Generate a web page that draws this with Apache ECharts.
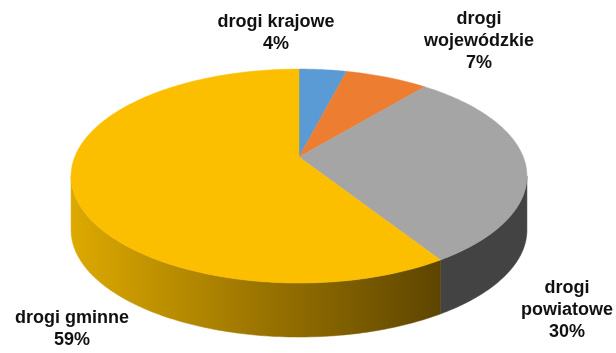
<!DOCTYPE html>
<html>
<head>
<meta charset="utf-8">
<script src="https://cdn.jsdelivr.net/npm/echarts@6/dist/echarts.min.js"></script>
<style>
  html, body { margin: 0; padding: 0; background: #fff; }
  #chart { width: 616px; height: 353px; }
</style>
</head>
<body>
<div id="chart"></div>
<script>
// Road network by category (share of total length, %)
const categories = ['drogi krajowe', 'drogi\nwojewódzkie', 'drogi\npowiatowe', 'drogi gminne'];
const shares = [4, 7, 30, 59];

// Slice colours: top face and side wall
const topColors = ['#5B9BD5', '#ED7D31', '#A5A5A5', '#FBBF00'];
const sideColors = ['#3F6F9A', '#A95820', '#434343', null];

// Pie geometry (perspective-projected disc)
const geo = { cx: 299, cy: 157, A: 224.3, B: 103.6, k: 0.178, depth: 54 };
// Label anchors (centre of each text block)
const labelPos = [[276, 33], [479, 41], [567, 310], [72, 329]];

const total = shares.reduce((a, b) => a + b, 0);

function project(theta, dy) {
  const u = Math.sin(theta), v = Math.cos(theta);
  const d = 1 + geo.k * v;
  return [geo.cx + geo.A * u / d, geo.cy - geo.B * v / d + (dy || 0)];
}

function sliceAngles(idx, value) {
  let before = 0;
  for (let i = 0; i < idx; i++) before += shares[i];
  const a0 = before / total * Math.PI * 2;
  const a1 = (before + value) / total * Math.PI * 2;
  return [a0, a1];
}

function arc(a0, a1, dy) {
  const pts = [];
  const n = Math.max(2, Math.ceil((a1 - a0) / (Math.PI / 180)));
  for (let i = 0; i <= n; i++) pts.push(project(a0 + (a1 - a0) * i / n, dy));
  return pts;
}

const sideGradient = {
  type: 'linear', x: 71, y: 0, x2: 438, y2: 0, global: true,
  colorStops: [
    { offset: 0, color: '#DDA900' },
    { offset: 0.5, color: '#9D7600' },
    { offset: 1, color: '#5E4600' }
  ]
};

const visFrom = Math.acos(-geo.k);
const visTo = Math.PI * 2 - visFrom;

const chart = echarts.init(document.getElementById('chart'), null, { renderer: 'canvas' });

chart.setOption({
  animation: false,
  series: [
    {
      // side walls of the disc
      type: 'custom',
      coordinateSystem: 'none',
      z: 1,
      data: shares.map(v => [v]),
      renderItem: function (params, api) {
        const [a0, a1] = sliceAngles(params.dataIndex, api.value(0));
        const s = Math.max(a0, visFrom), e = Math.min(a1, visTo);
        if (e <= s) return { type: 'group', children: [] };
        const top = arc(s, e, 0);
        const bottom = arc(s, e, geo.depth).reverse();
        const fill = sideColors[params.dataIndex] || sideGradient;
        return {
          type: 'polygon',
          shape: { points: top.concat(bottom) },
          style: { fill: fill, stroke: fill, lineWidth: 0.5 }
        };
      }
    },
    {
      // top faces with labels
      type: 'custom',
      coordinateSystem: 'none',
      z: 2,
      data: shares.map(v => [v]),
      renderItem: function (params, api) {
        const i = params.dataIndex;
        const val = api.value(0);
        const [a0, a1] = sliceAngles(i, val);
        const pts = [[geo.cx, geo.cy]].concat(arc(a0, a1, 0));
        return {
          type: 'group',
          children: [
            {
              type: 'polygon',
              shape: { points: pts },
              style: { fill: topColors[i], stroke: topColors[i], lineWidth: 0.5 }
            },
            {
              type: 'text',
              x: labelPos[i][0],
              y: labelPos[i][1],
              style: {
                text: categories[i] + '\n' + val + '%',
                align: 'center',
                verticalAlign: 'middle',
                lineHeight: 22,
                font: 'bold 18px "Liberation Sans", Arial, sans-serif',
                fill: '#111'
              }
            }
          ]
        };
      }
    }
  ]
});
</script>
</body>
</html>
